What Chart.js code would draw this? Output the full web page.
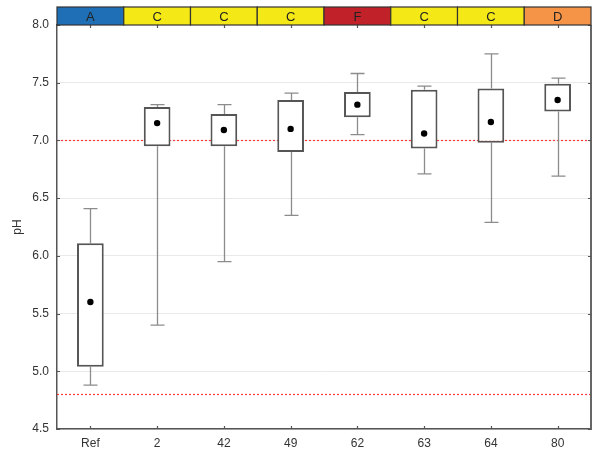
<!DOCTYPE html>
<html>
<head>
<meta charset="utf-8">
<script src="https://cdn.jsdelivr.net/npm/chart.js@4.4.1/dist/chart.umd.min.js"></script>
<style>
  html, body { margin: 0; padding: 0; background: #fff; }
  #wrap { width: 596px; height: 454px; }
</style>
</head>
<body>
<div id="wrap"><canvas id="c" width="596" height="454"></canvas></div>
<script>
// Sampling sites and their pH distributions
const sites       = ['Ref', '2', '42', '49', '62', '63', '64', '80'];
const classes     = ['A', 'C', 'C', 'C', 'F', 'C', 'C', 'D'];
const whiskerLow  = [4.88, 5.40, 5.95, 6.35, 7.05, 6.71, 6.29, 6.69];
const boxLow      = [5.04, 6.95, 6.95, 6.90, 7.20, 6.93, 6.98, 7.25];
const boxHigh     = [6.11, 7.29, 7.23, 7.35, 7.42, 7.44, 7.45, 7.49];
const whiskerHigh = [6.41, 7.31, 7.31, 7.41, 7.58, 7.47, 7.75, 7.54];
const means       = [5.60, 7.15, 7.09, 7.10, 7.31, 7.06, 7.16, 7.35];
const limitLines  = [7.0, 4.8];
const yTicks      = [4.5, 5.0, 5.5, 6.0, 6.5, 7.0, 7.5, 8.0];

const classColors = { A: '#1e6fb6', C: '#f4e816', F: '#c1222a', D: '#f59446' };
const FONT = '"Liberation Sans", Arial, sans-serif';

// Limit lines, whiskers, frame, inward ticks and the class header band
const boxExtras = {
  id: 'boxExtras',
  beforeDatasetsDraw(chart) {
    const { ctx, chartArea: a, scales: { x, y } } = chart;
    ctx.save();
    // dotted limit lines
    ctx.strokeStyle = '#ff3b3b';
    ctx.lineWidth = 1.2;
    ctx.setLineDash([2, 2]);
    limitLines.forEach(v => {
      const py = Math.round(y.getPixelForValue(v)) + 0.5;
      ctx.beginPath(); ctx.moveTo(a.left, py); ctx.lineTo(a.right, py); ctx.stroke();
    });
    ctx.setLineDash([]);
    // whiskers and caps
    ctx.strokeStyle = '#8c8c8c';
    ctx.lineWidth = 1.3;
    sites.forEach((s, i) => {
      const px = Math.round(x.getPixelForValue(i)) + 0.5;
      const yl = y.getPixelForValue(whiskerLow[i]);
      const yh = y.getPixelForValue(whiskerHigh[i]);
      const y1 = y.getPixelForValue(boxLow[i]);
      const y3 = y.getPixelForValue(boxHigh[i]);
      ctx.beginPath();
      ctx.moveTo(px, y1); ctx.lineTo(px, yl);
      ctx.moveTo(px, y3); ctx.lineTo(px, yh);
      ctx.moveTo(px - 7, yl); ctx.lineTo(px + 7, yl);
      ctx.moveTo(px - 7, yh); ctx.lineTo(px + 7, yh);
      ctx.stroke();
    });
    ctx.restore();
  },
  afterDraw(chart) {
    const { ctx, chartArea: a, scales: { x, y } } = chart;
    ctx.save();
    // right frame line
    ctx.strokeStyle = '#666';
    ctx.lineWidth = 2;
    ctx.beginPath(); ctx.moveTo(a.right, a.top); ctx.lineTo(a.right, a.bottom + 1); ctx.stroke();
    // inward ticks on left and right
    ctx.lineWidth = 1.2;
    ctx.strokeStyle = '#555';
    yTicks.forEach(v => {
      const py = Math.round(y.getPixelForValue(v)) + 0.5;
      ctx.beginPath();
      ctx.moveTo(a.left, py); ctx.lineTo(a.left + 3, py);
      ctx.moveTo(a.right, py); ctx.lineTo(a.right - 3, py);
      ctx.stroke();
    });
    // inward ticks on bottom and below the header band
    sites.forEach((s, i) => {
      const px = Math.round(x.getPixelForValue(i)) + 0.5;
      ctx.beginPath();
      ctx.moveTo(px, a.bottom); ctx.lineTo(px, a.bottom - 3);
      ctx.moveTo(px, a.top); ctx.lineTo(px, a.top + 3);
      ctx.stroke();
    });
    // class header band
    const bandH = 18;
    const step = (a.right - a.left) / sites.length;
    ctx.font = '13px ' + FONT;
    ctx.textAlign = 'center';
    ctx.textBaseline = 'middle';
    classes.forEach((c, i) => {
      const cx = x.getPixelForValue(i);
      const l = cx - step / 2, t = a.top - bandH;
      ctx.fillStyle = classColors[c];
      ctx.fillRect(l, t, step, bandH);
      ctx.strokeStyle = '#333';
      ctx.lineWidth = 1.2;
      ctx.strokeRect(l, t, step, bandH);
      ctx.fillStyle = '#222';
      ctx.fillText(c, cx, t + bandH / 2 + 1);
    });
    ctx.restore();
  }
};

new Chart(document.getElementById('c'), {
  data: {
    labels: sites,
    datasets: [
      {
        type: 'line',
        label: 'Mean',
        data: means,
        showLine: false,
        pointRadius: 3.2,
        pointHoverRadius: 3.2,
        pointBackgroundColor: '#000',
        pointBorderColor: '#000',
        pointBorderWidth: 0,
        order: 0
      },
      {
        type: 'bar',
        label: 'Interquartile range',
        data: sites.map((s, i) => [boxLow[i], boxHigh[i]]),
        backgroundColor: '#fff',
        borderColor: '#555',
        borderWidth: 2,
        borderSkipped: false,
        categoryPercentage: 1,
        barPercentage: 0.4,
        order: 1
      }
    ]
  },
  options: {
    responsive: false,
    animation: false,
    events: [],
    layout: { padding: { top: 25, right: 5, left: 0, bottom: 0 } },
    plugins: { legend: { display: false }, tooltip: { enabled: false } },
    scales: {
      x: {
        type: 'category',
        offset: true,
        grid: { display: false, drawTicks: false },
        border: { color: '#555', width: 1.5 },
        ticks: { color: '#333', font: { family: FONT, size: 12 }, padding: 7 },
        afterFit(s) { s.height = 25; }
      },
      y: {
        min: 4.5,
        max: 8.0,
        afterBuildTicks(s) { s.ticks = yTicks.map(v => ({ value: v })); },
        grid: { color: ctx => ctx.tick && ctx.tick.value === 8 ? 'rgba(0,0,0,0)' : '#e9e9e9', lineWidth: 1, drawTicks: false },
        border: { color: '#555', width: 1.5 },
        ticks: {
          color: '#333',
          font: { family: FONT, size: 12 },
          padding: 8,
          callback: v => Number(v).toFixed(1)
        },
        title: {
          display: true,
          text: 'pH',
          color: '#333',
          font: { family: FONT, size: 12 },
          padding: { top: 10, bottom: 0 }
        },
        afterFit(s) { s.width = 57; }
      }
    }
  },
  plugins: [boxExtras]
});
</script>
</body>
</html>
